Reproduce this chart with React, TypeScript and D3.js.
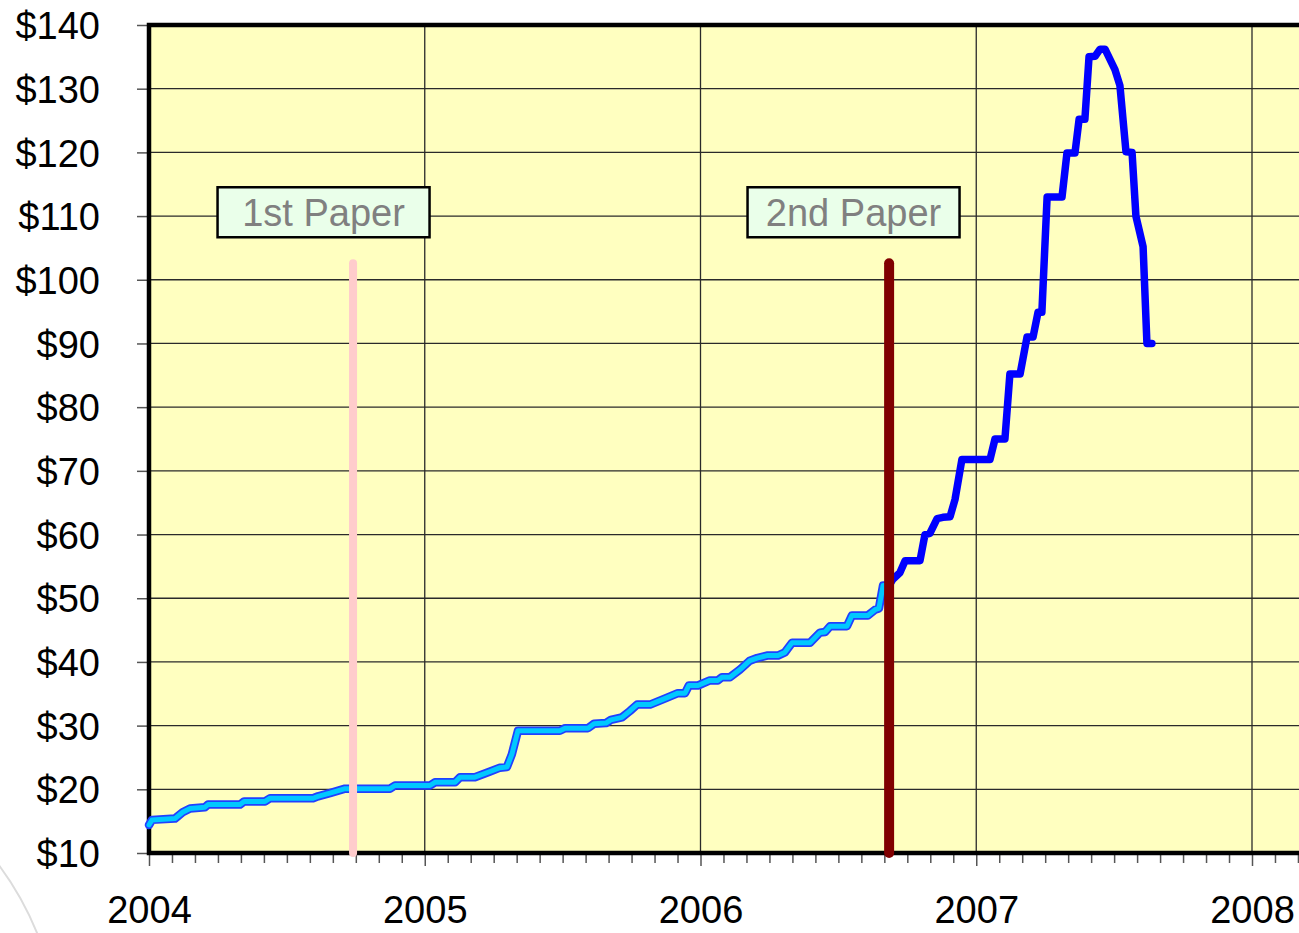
import React, { Component } from 'react';
import * as d3 from 'd3';

// Price history, decimal year -> dollars
const earlyYears = [2004.0, 2004.011, 2004.094, 2004.122, 2004.149, 2004.203, 2004.214, 2004.33, 2004.345, 2004.421,
  2004.439, 2004.595, 2004.613, 2004.656, 2004.711, 2004.874, 2004.892, 2005.019, 2005.037, 2005.11,
  2005.128, 2005.182, 2005.237, 2005.273, 2005.298, 2005.316, 2005.338, 2005.49, 2005.509, 2005.592,
  2005.614, 2005.657, 2005.675, 2005.715, 2005.744, 2005.77, 2005.817, 2005.879, 2005.918, 2005.944,
  2005.958, 2005.991, 2006.034, 2006.063, 2006.078, 2006.107, 2006.143, 2006.179, 2006.205, 2006.241,
  2006.281, 2006.306, 2006.332, 2006.397, 2006.433, 2006.452, 2006.47, 2006.531, 2006.549, 2006.607,
  2006.633, 2006.647, 2006.662, 2006.684];
const earlyPrices = [14.4, 15.2, 15.4, 16.4, 17.0, 17.2, 17.6, 17.6, 18.1, 18.1,
  18.6, 18.6, 18.9, 19.4, 20.1, 20.1, 20.6, 20.6, 21.1, 21.1,
  21.9, 21.9, 22.8, 23.4, 23.5, 25.5, 29.2, 29.2, 29.6, 29.6,
  30.3, 30.4, 30.9, 31.3, 32.3, 33.3, 33.3, 34.4, 35.1, 35.1,
  36.3, 36.3, 37.1, 37.1, 37.6, 37.6, 38.8, 40.2, 40.6, 41.0,
  41.0, 41.5, 43.0, 43.0, 44.6, 44.7, 45.6, 45.6, 47.3, 47.3,
  48.2, 48.4, 52.0, 52.0];

const lateYears = [2006.684, 2006.698, 2006.723, 2006.742, 2006.796, 2006.814, 2006.832, 2006.858, 2006.879, 2006.905,
  2006.923, 2006.948, 2007.05, 2007.068, 2007.104, 2007.122, 2007.159, 2007.184, 2007.206, 2007.224,
  2007.238, 2007.257, 2007.311, 2007.329, 2007.358, 2007.373, 2007.394, 2007.409, 2007.431, 2007.449,
  2007.467, 2007.503, 2007.521, 2007.543, 2007.565, 2007.579, 2007.605, 2007.619, 2007.637];
const latePrices = [52.0, 53.0, 54.0, 55.9, 55.9, 60.0, 60.2, 62.5, 62.7, 62.8,
  65.5, 71.8, 71.8, 75.0, 75.0, 85.2, 85.2, 91.0, 91.0, 94.9,
  94.9, 113.0, 113.0, 119.9, 119.9, 125.2, 125.2, 135.0, 135.1, 136.2,
  136.2, 133.0, 130.5, 120.1, 120.0, 110.0, 105.2, 90.0, 90.0];

// Paper markers
const paperLabels = ['1st Paper', '2nd Paper'];
const paperYears = [2004.74, 2006.684];
const paperColors = ['#ffcccc', '#800000'];
const paperTop = 102.6;
const labelYears = [2004.633, 2006.555];
const labelPrice = 110.6;

const yearTicks = [2004, 2005, 2006, 2007, 2008];
const priceTicks = d3.range(10, 141, 10);

class App extends Component {

  componentDidMount() {
    var svg = d3.select('#canvas');
    var W = 1299;
    var left = 149, top = 25, bottom = 853;
    var font = "'Liberation Sans', Arial, sans-serif";

    // Scales
    var x = d3.scaleLinear().domain([2004, 2008]).range([left, 1252]);
    var y = d3.scaleLinear().domain([10, 140]).range([bottom, top]);

    // faint slide decoration bottom-left
    svg.append('circle')
      .attr('cx', -250).attr('cy', 1050).attr('r', 310)
      .attr('fill', 'none').attr('stroke', '#dcdcdc').attr('stroke-width', 2);

    // Plot area
    svg.append('rect')
      .attr('x', left).attr('y', top)
      .attr('width', W - left + 10).attr('height', bottom - top)
      .attr('fill', '#ffffc0');

    // Grid
    var g = svg.append('g');
    g.selectAll('.hgrid').data(priceTicks.slice(1, -1)).enter().append('line')
      .attr('x1', left).attr('x2', W + 5)
      .attr('y1', d => y(d)).attr('y2', d => y(d))
      .attr('stroke', '#2a2a2a').attr('stroke-width', 1.3);
    g.selectAll('.vgrid').data(yearTicks.slice(1)).enter().append('line')
      .attr('x1', d => x(d)).attr('x2', d => x(d))
      .attr('y1', top).attr('y2', bottom)
      .attr('stroke', '#2a2a2a').attr('stroke-width', 1.3);

    // Axes
    var yAxis = svg.append('g').attr('transform', 'translate(' + left + ',0)')
      .call(d3.axisLeft(y).tickValues(priceTicks).tickSize(12).tickFormat(d => '$' + d));
    yAxis.select('.domain').remove();
    yAxis.selectAll('.tick line').attr('stroke', '#555').attr('stroke-width', 1.5);
    yAxis.selectAll('.tick text')
      .attr('x', -49).attr('dy', '0.36em')
      .attr('font-family', font)
      .attr('font-size', 38).attr('fill', '#000');

    var months = d3.range(2004, 2008.2, 1 / 12).filter(d => Math.abs(d - Math.round(d)) > 0.01);
    var xMinor = svg.append('g').attr('transform', 'translate(0,' + bottom + ')')
      .call(d3.axisBottom(x).tickValues(months).tickSize(10).tickFormat(() => ''));
    xMinor.select('.domain').remove();
    xMinor.selectAll('.tick line').attr('stroke', '#555').attr('stroke-width', 1.5);

    var xAxis = svg.append('g').attr('transform', 'translate(0,' + bottom + ')')
      .call(d3.axisBottom(x).tickValues(yearTicks).tickSize(13).tickFormat(d3.format('d')));
    xAxis.select('.domain').remove();
    xAxis.selectAll('.tick line').attr('stroke', '#555').attr('stroke-width', 1.5);
    xAxis.selectAll('.tick text')
      .attr('y', 70).attr('dy', 0)
      .attr('font-family', font)
      .attr('font-size', 38).attr('fill', '#000');

    // Frame
    svg.append('path')
      .attr('d', 'M' + (W + 10) + ',' + top + 'H' + left + 'V' + bottom + 'H' + (W + 10))
      .attr('fill', 'none').attr('stroke', '#000').attr('stroke-width', 4.5);

    // Series
    var line = d3.line<[number, number]>().x(d => x(d[0])).y(d => y(d[1]));
    var early = earlyYears.map((t, i) => [t, earlyPrices[i]] as [number, number]);
    var late = lateYears.map((t, i) => [t, latePrices[i]] as [number, number]);

    svg.append('path').attr('d', line(early))
      .attr('fill', 'none').attr('stroke', '#2040ff').attr('stroke-width', 8.5)
      .attr('stroke-linejoin', 'round').attr('stroke-linecap', 'round');
    svg.append('path').attr('d', line(early))
      .attr('fill', 'none').attr('stroke', '#00c8ff').attr('stroke-width', 5)
      .attr('stroke-linejoin', 'round').attr('stroke-linecap', 'round');
    svg.append('path').attr('d', line(late))
      .attr('fill', 'none').attr('stroke', '#0000ff').attr('stroke-width', 7.5)
      .attr('stroke-linejoin', 'round').attr('stroke-linecap', 'round');

    // Paper markers
    svg.selectAll('.paper').data(paperYears).enter().append('line')
      .attr('x1', d => x(d)).attr('x2', d => x(d))
      .attr('y1', y(paperTop)).attr('y2', y(10))
      .attr('stroke', (d, i) => paperColors[i])
      .attr('stroke-width', (d, i) => (i === 0 ? 8 : 10))
      .attr('stroke-linecap', 'round');

    var labels = svg.selectAll('.label').data(paperLabels).enter().append('g')
      .attr('transform', (d, i) => 'translate(' + x(labelYears[i]) + ',' + y(labelPrice) + ')');
    labels.append('rect')
      .attr('x', -106).attr('y', -25).attr('width', 212).attr('height', 50)
      .attr('fill', '#eaffea').attr('stroke', '#000').attr('stroke-width', 2.5);
    labels.append('text')
      .attr('text-anchor', 'middle').attr('dy', '0.36em')
      .attr('font-family', font)
      .attr('font-size', 38).attr('fill', '#808080')
      .text(d => d);
  }

  render() {
    return (
      <svg id="canvas" width={1299} height={933}
        style={{ position: 'absolute', left: 0, top: 0, background: '#fff' }}></svg>
    );
  }
}

export default App;
